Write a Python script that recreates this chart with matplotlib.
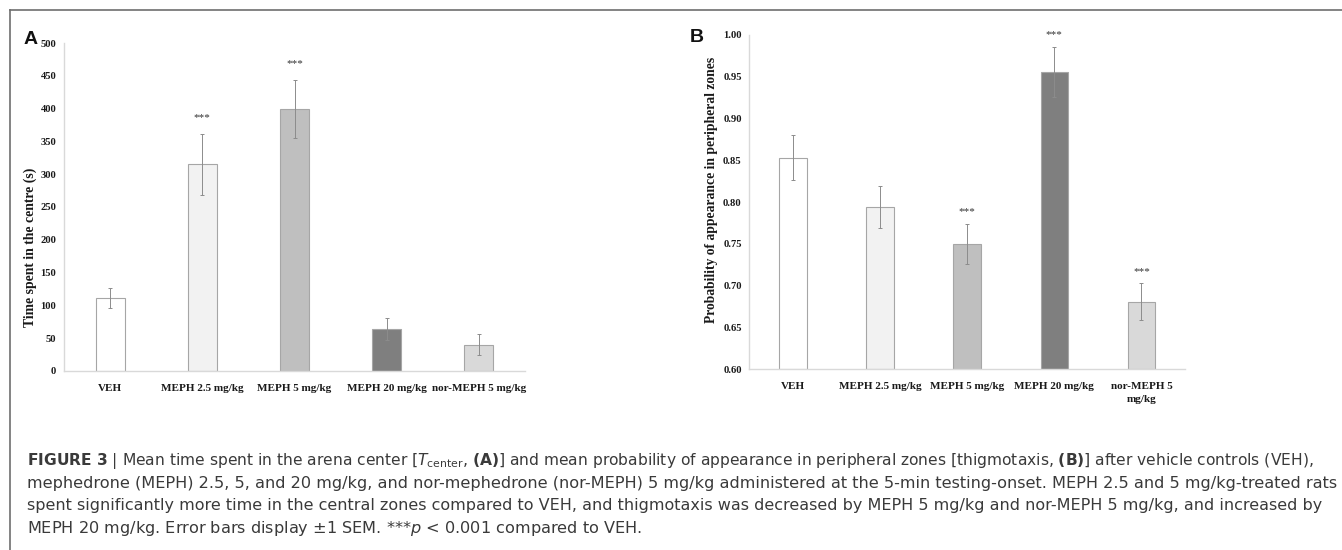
import matplotlib
matplotlib.use('Agg')
import matplotlib.pyplot as plt
from matplotlib.lines import Line2D
import numpy as np

# ---------------- data ----------------
categories_a = ["VEH", "MEPH 2.5 mg/kg", "MEPH 5 mg/kg", "MEPH 20 mg/kg", "nor-MEPH 5 mg/kg"]
categories_b = ["VEH", "MEPH 2.5 mg/kg", "MEPH 5 mg/kg", "MEPH 20 mg/kg", "nor-MEPH 5\nmg/kg"]
time_centre = [111, 315, 399, 64, 40]
time_centre_sem = [15.5, 46, 44, 17, 16]
periph_prob = [0.853, 0.794, 0.750, 0.956, 0.681]
periph_prob_sem = [0.027, 0.025, 0.024, 0.030, 0.022]
sig_a = ["", "***", "***", "", ""]
sig_b = ["", "", "***", "***", "***"]
yticks_a = [0, 50, 100, 150, 200, 250, 300, 350, 400, 450, 500]
yticks_b = [0.60, 0.65, 0.70, 0.75, 0.80, 0.85, 0.90, 0.95, 1.00]

bar_colors = ['#ffffff', '#f2f2f2', '#bfbfbf', '#7f7f7f', '#d9d9d9']

W, H = 1342, 550
fig = plt.figure(figsize=(W / 100, H / 100), dpi=100)
fig.patch.set_facecolor('white')

serif = 'Liberation Serif'


def draw_panel(ax, cats, vals, sems, sig, yticks, fmt, star_off):
    x = np.arange(len(cats))
    base = yticks[0]
    ax.bar(x, np.array(vals) - base, bottom=base, width=0.315, color=bar_colors,
           edgecolor='#a6a6a6', linewidth=0.8, zorder=2)
    ax.errorbar(x, vals, yerr=sems, fmt='none', ecolor='#8c8c8c',
                elinewidth=0.7, capsize=1.5, capthick=0.7, zorder=3)
    for xi, v, s, t in zip(x, vals, sems, sig):
        if t:
            ax.annotate(t, (xi, v + s), xytext=(0, star_off), textcoords='offset points',
                        ha='center', va='center', fontsize=8, family=serif, color='#333333')
    ax.set_xlim(-0.5, len(cats) - 0.5)
    ax.set_ylim(yticks[0], yticks[-1])
    ax.set_yticks(yticks)
    ax.set_yticklabels([fmt.format(t) for t in yticks], family=serif,
                       fontweight='bold', fontsize=7.6)
    ax.set_xticks(x)
    ax.set_xticklabels(cats, family=serif, fontweight='bold', fontsize=8,
                       linespacing=1.55)
    for s in ['top', 'right']:
        ax.spines[s].set_visible(False)
    for s in ['left', 'bottom']:
        ax.spines[s].set_color('#d9d9d9')
        ax.spines[s].set_linewidth(1.0)
    ax.tick_params(axis='y', length=0, pad=5.5, colors='#1a1a1a')
    ax.tick_params(axis='x', length=0, pad=9.5, colors='#1a1a1a')
    ax.set_facecolor('none')


axA = fig.add_axes([64 / W, 1 - 371 / H, 461 / W, 328 / H])
draw_panel(axA, categories_a, time_centre, time_centre_sem, sig_a, yticks_a, '{:d}', 12)
axB = fig.add_axes([749.3 / W, 1 - 369.3 / H, 435.7 / W, 334.3 / H])
draw_panel(axB, categories_b, periph_prob, periph_prob_sem, sig_b, yticks_b, '{:.2f}', 8.5)

fig.text(30 / W, 1 - 247 / H, 'Time spent in the centre (s)', rotation=90,
         ha='center', va='center', family=serif, fontweight='bold', fontsize=9.9,
         color='#1a1a1a')
fig.text(711.7 / W, 1 - 190 / H, 'Probability of appearance in peripheral zones', rotation=90,
         ha='center', va='center', family=serif, fontweight='bold', fontsize=9.8,
         color='#1a1a1a')

fig.text(31 / W, 1 - 40 / H, 'A', ha='center', va='center', family='Liberation Sans',
         fontweight='bold', fontsize=14, color='#111111')
fig.text(697 / W, 1 - 38 / H, 'B', ha='center', va='center', family='Liberation Sans',
         fontweight='bold', fontsize=14, color='#111111')

# border
fig.add_artist(Line2D([9.5 / W, 9.5 / W], [0, 1 - 10 / H], transform=fig.transFigure,
                      color='#6e6e6e', lw=1.2))
fig.add_artist(Line2D([9.5 / W, 1], [1 - 10 / H, 1 - 10 / H], transform=fig.transFigure,
                      color='#6e6e6e', lw=1.2))

caption = [
    r"$\mathbf{FIGURE\ 3}$ | Mean time spent in the arena center [$\mathit{T}_{\mathrm{center}}$, "
    r"$\mathbf{(A)}$] and mean probability of appearance in peripheral zones [thigmotaxis, "
    r"$\mathbf{(B)}$] after vehicle controls (VEH),",
    "mephedrone (MEPH) 2.5, 5, and 20 mg/kg, and nor-mephedrone (nor-MEPH) 5 mg/kg "
    "administered at the 5-min testing-onset. MEPH 2.5 and 5 mg/kg-treated rats",
    "spent significantly more time in the central zones compared to VEH, and thigmotaxis "
    "was decreased by MEPH 5 mg/kg and nor-MEPH 5 mg/kg, and increased by",
    r"MEPH 20 mg/kg. Error bars display ±1 SEM. ***$\mathit{p}$ < 0.001 compared to VEH.",
]
# right edge (pixels) of each caption line in the text column; None = same size as line 2
caption_right = [1313, 1340, 1322, None]
cap_texts = []
for i, line in enumerate(caption):
    cap_texts.append(fig.text(27 / W, 1 - (465 + 22.6 * i) / H, line, ha='left',
                              va='baseline', family='DejaVu Sans', fontsize=11,
                              color='#3a3a3a'))
renderer = fig.canvas.get_renderer()
sizes = []
for t, r in zip(cap_texts, caption_right):
    if r is None:
        sizes.append(sizes[1])
    else:
        w = t.get_window_extent(renderer=renderer).width
        sizes.append(11 * (r - 27) / w)
for t, s in zip(cap_texts, sizes):
    t.set_fontsize(s)

fig.savefig('out.png', dpi=100)
